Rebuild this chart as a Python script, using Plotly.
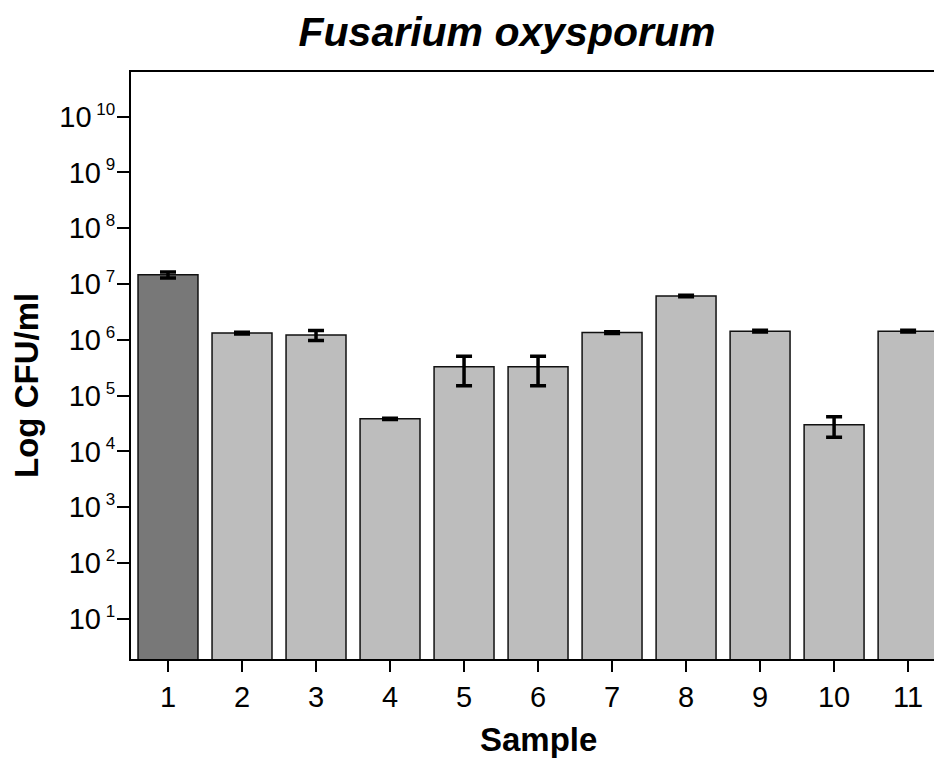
import plotly.graph_objects as go

samples = [1, 2, 3, 4, 5, 6, 7, 8, 9, 10, 11]
cfu = [1.46e7, 1.32e6, 1.22e6, 3.85e4, 3.3e5, 3.3e5, 1.35e6, 6.1e6, 1.43e6, 3.0e4, 1.43e6]
err = [1.8e6, 0.05e6, 0.25e6, 1.0e3, 1.8e5, 1.8e5, 0.05e6, 0.2e6, 0.05e6, 1.2e4, 0.05e6]
bar_colors = ["#787878"] + ["#bdbdbd"] * 10
ytick_vals = [1e1, 1e2, 1e3, 1e4, 1e5, 1e6, 1e7, 1e8, 1e9, 1e10]
ytick_exp = [1, 2, 3, 4, 5, 6, 7, 8, 9, 10]
ytick_text = ["10<sup><span style='font-size:17px'>&nbsp;%d</span></sup>" % i
              for i in ytick_exp]

FONT = "Liberation Sans, Arial, sans-serif"

fig = go.Figure()
fig.add_trace(go.Bar(
    x=samples, y=cfu, width=0.81,
    marker=dict(color=bar_colors, line=dict(color="#111111", width=1.5)),
    error_y=dict(type="data", array=err, symmetric=True, color="black",
                 thickness=3.5, width=8),
))

fig.update_layout(
    width=934, height=758,
    margin=dict(l=131, r=0, t=72, b=99),
    plot_bgcolor="white", paper_bgcolor="white",
    showlegend=False,
    font=dict(family=FONT, color="black"),
    title=dict(text="<b><i>Fusarium oxysporum</i></b>", xref="container",
               x=507/934, xanchor="center", yref="container",
               y=1-32/758, yanchor="middle",
               font=dict(size=41, family=FONT, color="black")),
)
fig.update_xaxes(
    range=[0.5, 11.35], tickvals=samples, ticktext=[str(s) for s in samples],
    showline=True, linecolor="black", linewidth=2, mirror=True,
    ticks="outside", ticklen=11, tickwidth=2, tickcolor="black",
    tickfont=dict(size=29, family=FONT, color="black"), showgrid=False, zeroline=False,
)
fig.update_yaxes(
    type="log", range=[0.28, 10.8], tickvals=ytick_vals, ticktext=ytick_text,
    showline=True, linecolor="black", linewidth=2, mirror=False,
    ticks="outside", ticklen=12, tickwidth=2, tickcolor="black",
    tickfont=dict(size=29, family=FONT, color="black"), showgrid=False, zeroline=False,
    ticklabelstandoff=-4,
)
fig.add_annotation(text="<b>Sample</b>", xref="paper", yref="paper",
                   x=(538-131)/803, y=-(739-659)/587, xanchor="center", yanchor="middle",
                   showarrow=False, font=dict(size=33, family=FONT, color="black"))
fig.add_annotation(text="<b>Log CFU/ml</b>", xref="paper", yref="paper",
                   x=-(131-26)/803, y=(659-386)/587, xanchor="center", yanchor="middle",
                   textangle=-90, showarrow=False,
                   font=dict(size=33, family=FONT, color="black"))

fig.write_html("out.html")
